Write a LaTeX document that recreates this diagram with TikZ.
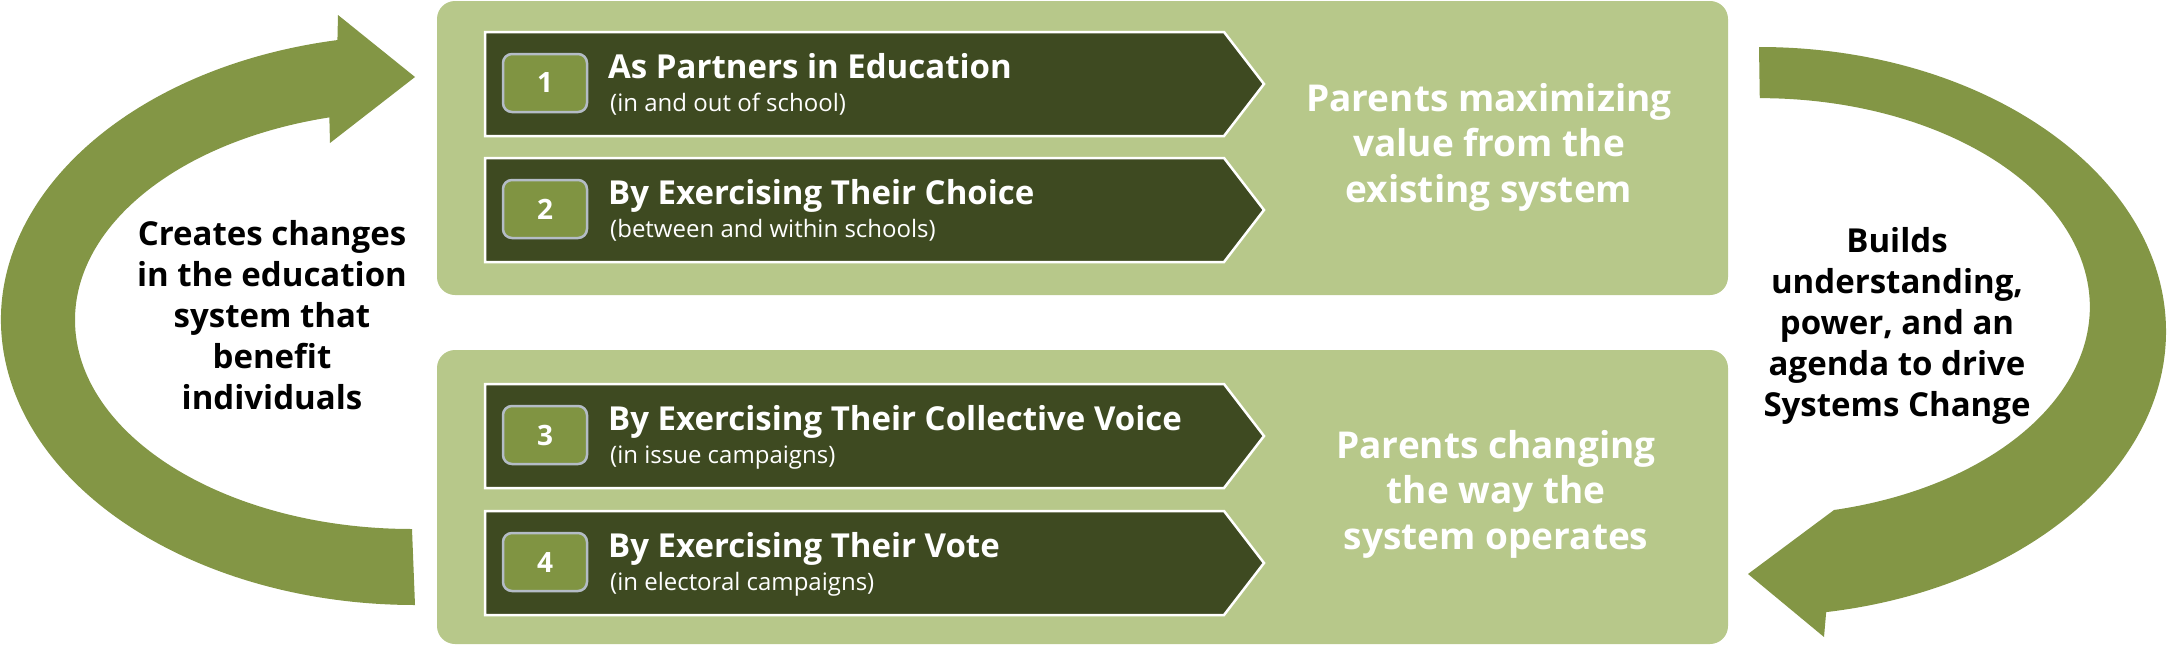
\documentclass[tikz,border=0pt]{standalone}
\usepackage{fontspec}
\setmainfont{Open Sans}
\definecolor{panelgreen}{RGB}{183,200,138}
\definecolor{arrowgreen}{RGB}{131,150,69}
\definecolor{darkgreen}{RGB}{62,74,33}
\definecolor{boxfill}{RGB}{128,148,66}
\definecolor{boxborder}{RGB}{180,188,198}
\begin{document}
\begin{tikzpicture}[x=1pt,y=-1pt,
  panel/.style={fill=panelgreen, rounded corners=18pt, minimum width=1291pt, minimum height=294pt, inner sep=0pt},
  chev/.style={fill=darkgreen, draw=white, line width=2.5pt},
  numbox/.style={fill=boxfill, draw=boxborder, line width=2.5pt, rounded corners=9pt, minimum width=84pt, minimum height=58pt, inner sep=0pt, text=white, font=\bfseries\fontsize{28}{30}\selectfont},
  title/.style={anchor=base west, inner sep=0pt, text=white, font=\bfseries\fontsize{33}{36}\selectfont},
  sub/.style={anchor=base west, inner sep=0pt, text=white, font=\fontsize{24}{26}\selectfont},
  paneltext/.style={anchor=base, align=center, inner sep=0pt, text=white, font=\bfseries\fontsize{37}{45.5}\selectfont},
  sidetext/.style={anchor=base, align=center, inner sep=0pt, text=black, font=\bfseries\fontsize{33}{41}\selectfont},
  bigarrow/.style={fill=arrowgreen}]
\useasboundingbox (0,0) rectangle (2168,645);

% panels
\node[panel] (ptop) at (1082.5,148) {};
\node[panel] (pbot) at (1082.5,497) {};

% left circular arrow
\fill[bigarrow] (415,320) ++(259.2:414 and 285)
  arc[start angle=259.2, end angle=90, x radius=414, y radius=285]
  -- (412,529)
  arc[start angle=90, end angle=255.8, x radius=337, y radius=209]
  -- (330,143) -- (415,77) -- (338,15) -- cycle;

% right circular arrow
\fill[bigarrow] (1759,47)
  arc[start angle=270, end angle=440.5, x radius=407, y radius=284.5]
  -- (1824,637) -- (1748,574) -- (1834,510)
  arc[start angle=437, end angle=270, x radius=330, y radius=208.6]
  -- cycle;

% chevrons
\draw[chev] (485,32) -- (1224,32) -- (1264,84) -- (1224,136) -- (485,136) -- cycle;
\draw[chev] (485,158) -- (1224,158) -- (1264,210) -- (1224,262) -- (485,262) -- cycle;
\draw[chev] (485,384) -- (1224,384) -- (1264,436) -- (1224,488) -- (485,488) -- cycle;
\draw[chev] (485,511) -- (1224,511) -- (1264,563) -- (1224,615) -- (485,615) -- cycle;

% number boxes
\node[numbox] (n1) at (545,83) {1};
\node[numbox] (n2) at (545,209) {2};
\node[numbox] (n3) at (545,435) {3};
\node[numbox] (n4) at (545,562) {4};

% chevron texts
\node[title] (t1) at (608,78) {As Partners in Education};
\node[sub] (s1) at (610,111) {(in and out of school)};
\node[title] (t2) at (608,204) {By Exercising Their Choice};
\node[sub] (s2) at (610,237) {(between and within schools)};
\node[title] (t3) at (608,430) {By Exercising Their Collective Voice};
\node[sub] (s3) at (610,463) {(in issue campaigns)};
\node[title] (t4) at (608,557) {By Exercising Their Vote};
\node[sub] (s4) at (610,590) {(in electoral campaigns)};

% panel texts (anchor = baseline of last line)
\node[paneltext] (q1) at (1489,202) {Parents maximizing\\value from the\\existing system};
\node[paneltext] (q2) at (1496,549) {Parents changing\\the way the\\system operates};

% side texts
\node[sidetext] (lt) at (272,409) {Creates changes\\in the education\\system that\\benefit\\individuals};
\node[sidetext] (rt) at (1897,416) {Builds\\understanding,\\power, and an\\agenda to drive\\Systems Change};
\end{tikzpicture}
\end{document}
